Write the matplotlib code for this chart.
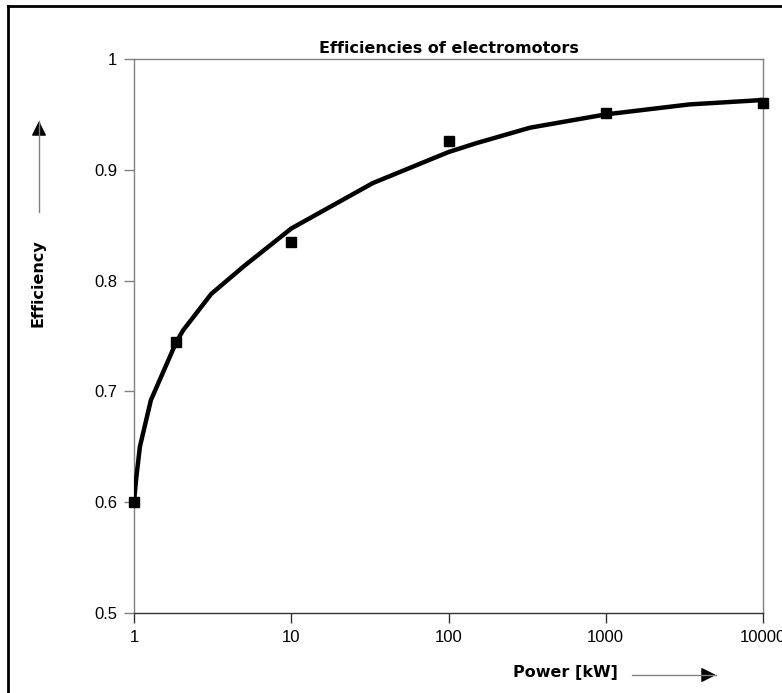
import matplotlib
matplotlib.use('Agg')
import matplotlib.pyplot as plt
from matplotlib.lines import Line2D
from matplotlib.patches import FancyArrowPatch
from matplotlib.ticker import FixedLocator, NullLocator, FixedFormatter

# measured efficiencies
power_kw = [1, 1.85, 10, 100, 1000, 10000]
efficiency = [0.600, 0.745, 0.835, 0.926, 0.951, 0.960]

# trend line
curve_x = [1, 1.03, 1.09, 1.28, 1.85, 2.05, 3.1, 5.0, 10, 33, 100, 150, 330, 1000, 3400, 10000]
curve_y = [0.600, 0.620, 0.650, 0.692, 0.744, 0.755, 0.788, 0.813, 0.847, 0.888, 0.916,
           0.924, 0.938, 0.950, 0.959, 0.963]

x_ticks = [1, 10, 100, 1000, 10000]
x_tick_labels = ['1', '10', '100', '1000', '10000']
y_ticks = [0.5, 0.6, 0.7, 0.8, 0.9, 1.0]
y_tick_labels = ['0.5', '0.6', '0.7', '0.8', '0.9', '1']

fig = plt.figure(figsize=(7.82, 6.93), dpi=100)
ax = fig.add_axes([134 / 782, 1 - 613 / 693, 629 / 782, 554 / 693])

ax.plot(curve_x, curve_y, color='black', lw=3.2, solid_joinstyle='round', zorder=3)
ax.plot(power_kw, efficiency, linestyle='none', marker='s', ms=6.5, color='black', zorder=4,
        clip_on=False)

ax.set_xscale('log')
ax.set_xlim(1, 10000)
ax.set_ylim(0.5, 1.0)
ax.xaxis.set_major_locator(FixedLocator(x_ticks))
ax.xaxis.set_major_formatter(FixedFormatter(x_tick_labels))
ax.xaxis.set_minor_locator(NullLocator())
ax.set_yticks(y_ticks)
ax.set_yticklabels(y_tick_labels)

for side in ['left', 'top', 'right']:
    ax.spines[side].set_color('#808080')
    ax.spines[side].set_linewidth(1.0)
ax.spines['bottom'].set_color('#333333')
ax.spines['bottom'].set_linewidth(1.0)

ax.tick_params(axis='y', direction='out', length=7, width=1, color='#808080', pad=5,
               labelsize=12)
ax.tick_params(axis='x', direction='out', length=7, width=1, color='#333333', pad=5,
               labelsize=12)
for lab in ax.get_xticklabels() + ax.get_yticklabels():
    lab.set_family('Liberation Sans')

ax.set_title('Efficiencies of electromotors', fontsize=11.5, fontweight='bold',
             family='DejaVu Sans', pad=4)


def label_arrow(x0, y0, x1, y1):
    # gray shaft, black head, in figure pixels from the top left
    fig.add_artist(Line2D([x0 / 782, x1 / 782], [1 - y0 / 693, 1 - y1 / 693],
                          transform=fig.transFigure, color='#808080', lw=1))
    dx, dy = x1 - x0, y1 - y0
    n = (dx ** 2 + dy ** 2) ** 0.5
    hx, hy = x1 - dx / n * 14, y1 - dy / n * 14
    fig.add_artist(FancyArrowPatch((hx / 782, 1 - hy / 693), (x1 / 782, 1 - y1 / 693),
                                   transform=fig.transFigure,
                                   arrowstyle='-|>,head_length=9,head_width=4.5',
                                   color='black', lw=1, mutation_scale=1,
                                   shrinkA=0, shrinkB=0))


fig.text(38 / 782, 1 - 283 / 693, 'Efficiency', rotation=90, ha='center', va='center',
         fontsize=11.5, fontweight='bold', family='DejaVu Sans')
label_arrow(39, 212, 39, 121)
fig.text(565 / 782, 1 - 673 / 693, 'Power [kW]', ha='center', va='center',
         fontsize=11.5, fontweight='bold', family='DejaVu Sans')
label_arrow(632, 675, 716, 675)

# outer frame (right and bottom fall outside the picture)
fig.add_artist(Line2D([8 / 782, 8 / 782], [-0.05, 1 - 6 / 693], transform=fig.transFigure,
                      color='black', lw=2))
fig.add_artist(Line2D([8 / 782, 1.05], [1 - 6 / 693, 1 - 6 / 693], transform=fig.transFigure,
                      color='black', lw=2))

fig.savefig('out.png', dpi=100)
